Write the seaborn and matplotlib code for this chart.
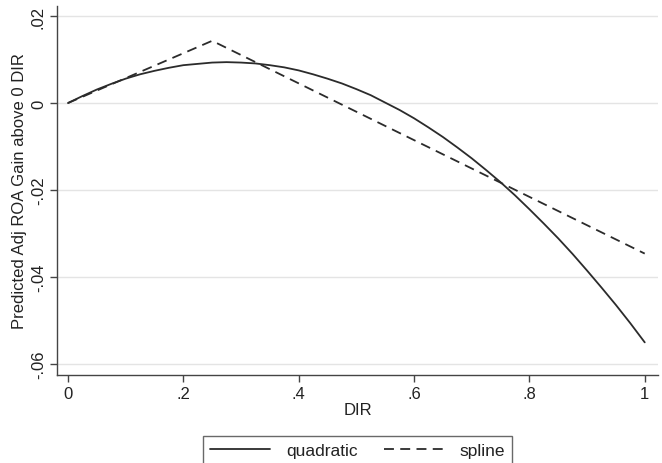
import matplotlib
matplotlib.use("Agg")
import matplotlib.pyplot as plt
import seaborn as sns
import pandas as pd
from matplotlib.ticker import FuncFormatter

# values
quad_x = [0.0, 0.025, 0.05, 0.075, 0.1, 0.125, 0.15, 0.175, 0.2, 0.225, 0.25,
          0.275, 0.3, 0.325, 0.35, 0.375, 0.4, 0.425, 0.45, 0.475, 0.5,
          0.525, 0.55, 0.575, 0.6, 0.625, 0.65, 0.675, 0.7, 0.725, 0.75,
          0.775, 0.8, 0.825, 0.85, 0.875, 0.9, 0.925, 0.95, 0.975, 1.0]
quad_y = [0.0, 0.0016, 0.0031, 0.0044, 0.0056, 0.0066, 0.0074, 0.0081, 0.0087, 0.0090, 0.0093,
          0.0094, 0.0093, 0.0091, 0.0087, 0.0082, 0.0075, 0.0066, 0.0056, 0.0045, 0.0032,
          0.0018, 0.0001, -0.0016, -0.0035, -0.0056, -0.0078, -0.0102, -0.0127, -0.0154, -0.0182,
          -0.0212, -0.0244, -0.0277, -0.0311, -0.0347, -0.0385, -0.0424, -0.0464, -0.0506, -0.0550]

spline_x = [0.0, 0.25, 1.0]
spline_y = [0.0, 0.0143, -0.0346]

x_ticks = [0, 0.2, 0.4, 0.6, 0.8, 1.0]
y_ticks = [-0.06, -0.04, -0.02, 0, 0.02]


def stata_fmt(v, pos=None):
    # stata style: ".2", "-.04", "0"
    if abs(v) < 1e-12:
        return "0"
    s = ("%g" % round(v, 4))
    s = s.replace("0.", ".")
    return s


sns.set_style("white")
plt.rcParams["font.family"] = ["Liberation Sans", "DejaVu Sans"]

fig = plt.figure(figsize=(6.62, 4.64), dpi=100)
ax = fig.add_axes([57 / 662, 1 - 376 / 464, 601 / 662, 369 / 464])

line_col = "#2b2b2b"
quad = pd.DataFrame({"x": quad_x, "y": quad_y})
spl = pd.DataFrame({"x": spline_x, "y": spline_y})
sns.lineplot(data=quad, x="x", y="y", ax=ax, color=line_col, linewidth=1.3, label="quadratic")
sns.lineplot(data=spl, x="x", y="y", ax=ax, color=line_col, linewidth=1.3,
             linestyle=(0, (5.5, 3.5)), label="spline")

ax.set_xlim(-0.019, 1.023)
ax.set_ylim(-0.0625, 0.0223)
ax.set_xticks(x_ticks)
ax.set_yticks(y_ticks)
ax.xaxis.set_major_formatter(FuncFormatter(stata_fmt))
ax.yaxis.set_major_formatter(FuncFormatter(stata_fmt))
for lab in ax.get_yticklabels():
    lab.set_rotation(90)
    lab.set_va("center")

ax.yaxis.grid(True, color="#e4e4e4", linewidth=1.0)
ax.xaxis.grid(False)
ax.set_axisbelow(True)

for side in ["top", "right"]:
    ax.spines[side].set_visible(False)
for side in ["left", "bottom"]:
    ax.spines[side].set_color("#444444")
    ax.spines[side].set_linewidth(1.0)

ax.tick_params(axis="both", which="major", length=5, width=1.0, color="#444444",
               labelsize=12, labelcolor="#222222", pad=3, left=True, bottom=True)

ax.set_xlabel("DIR", fontsize=12, color="#222222", labelpad=1)
ax.set_ylabel("Predicted Adj ROA Gain above 0 DIR", fontsize=12, color="#222222", labelpad=3)

leg = ax.legend(loc="upper center", bbox_to_anchor=(0.5, -0.165), ncol=2, frameon=True,
                fancybox=False, edgecolor="#444444", fontsize=12.5, handlelength=3.45,
                columnspacing=1.5, borderaxespad=0, borderpad=0.4, handletextpad=0.9)
leg.get_frame().set_linewidth(1.0)
for t in leg.get_texts():
    t.set_color("#222222")

fig.savefig("out.png", dpi=100)
